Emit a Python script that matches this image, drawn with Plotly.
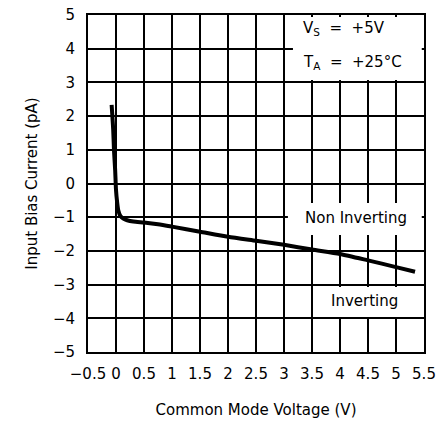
import plotly.graph_objects as go

# Data
cm_voltage = [-0.078, -0.05, -0.036, -0.015, 0.0, 0.02, 0.04, 0.08, 0.13, 0.2, 0.31, 0.5, 0.75, 1.0, 1.5, 2.0, 2.5, 3.0, 3.5, 4.0, 4.5, 5.0, 5.34]
bias_current = [2.33, 1.6, 0.99, 0.4, -0.19, -0.55, -0.79, -0.97, -1.04, -1.09, -1.13, -1.16, -1.21, -1.28, -1.43, -1.58, -1.70, -1.82, -1.96, -2.09, -2.28, -2.48, -2.62]

x_ticks = [-0.5, 0, 0.5, 1, 1.5, 2, 2.5, 3, 3.5, 4, 4.5, 5, 5.5]
x_tick_labels = ["\u22120.5", "0", "0.5", "1", "1.5", "2", "2.5", "3", "3.5", "4", "4.5", "5", "5.5"]
y_ticks = [-5, -4, -3, -2, -1, 0, 1, 2, 3, 4, 5]
y_tick_labels = ["\u22125", "\u22124", "\u22123", "\u22122", "\u22121", "0", "1", "2", "3", "4", "5"]

FONT = "DejaVu Sans"
fig = go.Figure()
fig.add_trace(go.Scatter(x=cm_voltage, y=bias_current, mode="lines",
                         line=dict(color="black", width=4, shape="spline", smoothing=0.6),
                         showlegend=False, hoverinfo="skip"))

axis_common = dict(showgrid=True, gridcolor="black", gridwidth=1.5,
                   showline=True, linecolor="black", linewidth=2, mirror=True,
                   zeroline=False, ticks="", automargin=False,
                   tickfont=dict(family=FONT, size=15, color="black"))

fig.update_xaxes(range=[-0.5, 5.5], tickvals=x_ticks, ticktext=x_tick_labels,
                 ticklabelstandoff=7,
                 title=dict(text="Common Mode Voltage (V)", font=dict(family=FONT, size=15, color="black"), standoff=22),
                 **axis_common)
fig.update_yaxes(range=[-5, 5], tickvals=y_ticks, ticktext=y_tick_labels,
                 ticklabelstandoff=8,
                 title=dict(text="Input Bias Current (pA)", font=dict(family=FONT, size=15, color="black"), standoff=12),
                 **axis_common)

# white boxes behind the labels
boxes = [(3.16, 5.46, 4.94, 3.07), (3.07, 5.46, -0.58, -1.53), (3.61, 5.25, -3.07, -3.96)]
for x0, x1, y0, y1 in boxes:
    fig.add_shape(type="rect", xref="x", yref="y", x0=x0, x1=x1, y0=y0, y1=y1,
                  fillcolor="white", line=dict(width=0), layer="above")

ann_font = dict(family=FONT, size=15, color="black")
fig.add_annotation(x=3.3, y=4.61, xref="x", yref="y", xanchor="left", showarrow=False,
                   text="V<sub>S</sub>  =  +5V", font=ann_font)
fig.add_annotation(x=3.3, y=3.6, xref="x", yref="y", xanchor="left", showarrow=False,
                   text="T<sub>A</sub>  =  +25°C", font=ann_font)
fig.add_annotation(x=4.29, y=-1.02, xref="x", yref="y", showarrow=False,
                   text="Non Inverting", font=ann_font)
fig.add_annotation(x=4.43, y=-3.5, xref="x", yref="y", showarrow=False,
                   text="Inverting", font=ann_font)

fig.update_layout(width=446, height=429, margin=dict(l=88, r=22, t=15, b=77),
                  plot_bgcolor="white", paper_bgcolor="white")
# remove the default 8px page margin so the figure sits at the window origin
fig.write_html("out.html", config={"displayModeBar": False},
               post_script="document.body.style.margin='0';")
